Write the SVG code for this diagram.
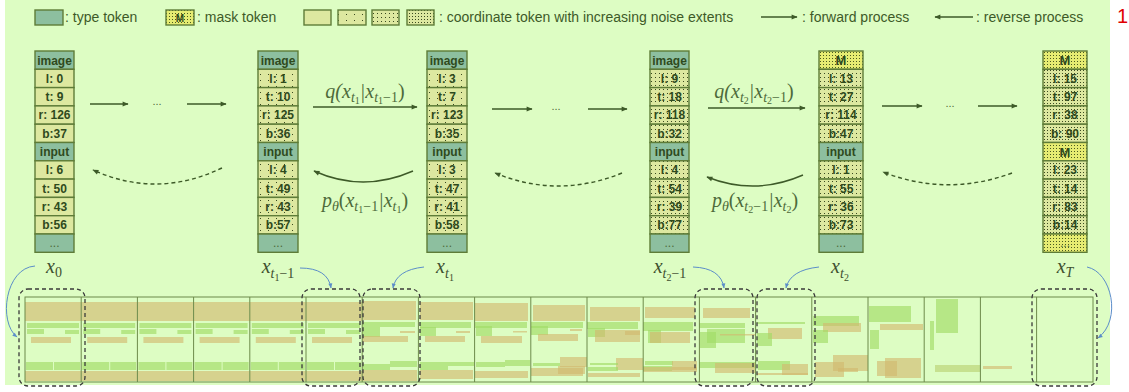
<svg xmlns="http://www.w3.org/2000/svg" width="1129" height="392" viewBox="0 0 1129 392">
<defs>
<style>
.lg{font-family:"Liberation Sans",Arial,sans-serif;font-size:14px;fill:#3d5a28}
.cell{stroke:#5e7c38;stroke-width:1.4}
.ty{fill:#8dbf9f}
.c0{fill:#dde8a0}
.c1{fill:url(#d1)}
.c2{fill:url(#d2)}
.c3{fill:url(#d3)}
.mk{fill:url(#dm)}
.ct{font-family:"Liberation Sans",Arial,sans-serif;font-size:12px;font-weight:bold;fill:#2f4a1d;text-anchor:middle}
.mt{font-size:13px}
.dt{font-weight:normal;fill:#4d6a3a}
.fw{stroke:#3d5a28;stroke-width:1.4;fill:none;marker-end:url(#ah)}
.dash{stroke-dasharray:4 3}
.m{font-family:"Liberation Serif","DejaVu Serif",serif;font-style:italic;font-size:20px;fill:#4d6a3a}
.xl{font-family:"Liberation Serif","DejaVu Serif",serif;font-style:italic;font-size:20px;fill:#3f5030}
.s{font-size:14px}
.ss{font-size:10px}
.xs{font-size:14px}
.xss{font-size:10px}
.up{font-style:normal}
.bl{stroke:#5b8dc9;stroke-width:1;fill:none;marker-end:url(#bh)}
.hl{fill:none;stroke:#3a3a3a;stroke-width:1.3;stroke-dasharray:4 3}
.fr{fill:none;stroke:#6d8a4a;stroke-width:1}
.tn{fill:#d2b86d;opacity:.62}
.gn{fill:#a2dc66;opacity:.65}
</style>
<pattern id="d1" width="8" height="6" patternUnits="userSpaceOnUse"><rect width="8" height="6" fill="#dde8a0"/><rect x="2" y="2" width="1" height="1" fill="#3a4a20"/></pattern>
<pattern id="d2" width="4" height="4" patternUnits="userSpaceOnUse"><rect width="4" height="4" fill="#dde8a0"/><rect x="1" y="1" width="1" height="1" fill="#3a4a20"/></pattern>
<pattern id="d3" width="3" height="3" patternUnits="userSpaceOnUse"><rect width="3" height="3" fill="#dde8a0"/><rect x="1" y="1" width="1" height="1" fill="#3a4a20"/></pattern>
<pattern id="dm" width="3" height="3" patternUnits="userSpaceOnUse"><rect width="3" height="3" fill="#e6ec72"/><rect x="1" y="1" width="1" height="1" fill="#4a5a20"/></pattern>
<marker id="ah" viewBox="0 0 10 10" refX="9" refY="5" markerWidth="8" markerHeight="6" markerUnits="userSpaceOnUse" orient="auto"><path d="M0,1 L10,5 L0,9 z" fill="#3d5a28"/></marker>
<marker id="bh" viewBox="0 0 10 10" refX="9" refY="5" markerWidth="6" markerHeight="5" markerUnits="userSpaceOnUse" orient="auto"><path d="M0,1 L10,5 L0,9 z" fill="#5b8dc9"/></marker>
<g id="fA">
<rect class="tn" x="0" y="302" width="56" height="19"/>
<rect class="gn" x="2" y="323" width="52" height="5"/>
<rect class="gn" x="2" y="329" width="17" height="5"/>
<rect class="gn" x="40" y="330" width="14" height="4"/>
<rect class="tn" x="6" y="337" width="40" height="6"/>
<rect class="gn" x="1" y="362" width="27" height="8"/>
<rect class="gn" x="29" y="362" width="26" height="8"/>
<rect class="tn" x="0" y="371" width="56" height="10"/>
</g>
</defs>

<rect x="5" y="0" width="1105" height="385" fill="#ddfdc3"/>

<g id="legend">
<rect class="cell ty" x="35" y="10" width="28" height="15"/>
<text class="lg" x="65" y="22">: type token</text>
<rect class="cell mk" x="166" y="10" width="28" height="15"/>
<text class="ct" x="180" y="22" style="font-size:10px">M</text>
<text class="lg" x="197" y="22">: mask token</text>
<rect class="cell c0" x="304" y="10" width="27" height="15"/>
<rect class="cell c1" x="338" y="10" width="28" height="15"/>
<rect class="cell c2" x="372" y="10" width="27" height="15"/>
<rect class="cell c3" x="407" y="10" width="27" height="15"/>
<text class="lg" x="439" y="22">: coordinate token with increasing noise extents</text>
<path class="fw" d="M761,17 H797"/>
<text class="lg" x="802" y="22">: forward process</text>
<path class="fw" d="M973,17 H935"/>
<text class="lg" x="976" y="22">: reverse process</text>
</g>
<text x="1117" y="23" font-family="Liberation Sans, Arial, sans-serif" font-size="20" fill="#e00000">1</text>

<g id="x0" transform="translate(35,0)">
<rect class="cell ty" x="0" y="51" width="39" height="18.3"/><text class="ct" x="19.5" y="64.5">image</text>
<rect class="cell c0" x="0" y="69.3" width="39" height="18.3"/><text class="ct" x="19.5" y="82.8">l: 0</text>
<rect class="cell c0" x="0" y="87.6" width="39" height="18.3"/><text class="ct" x="19.5" y="101.1">t: 9</text>
<rect class="cell c0" x="0" y="105.9" width="39" height="18.3"/><text class="ct" x="19.5" y="119.4">r: 126</text>
<rect class="cell c0" x="0" y="124.2" width="39" height="18.3"/><text class="ct" x="19.5" y="137.7">b:37</text>
<rect class="cell ty" x="0" y="142.5" width="39" height="18.3"/><text class="ct" x="19.5" y="156">input</text>
<rect class="cell c0" x="0" y="160.8" width="39" height="18.3"/><text class="ct" x="19.5" y="174.3">l: 6</text>
<rect class="cell c0" x="0" y="179.1" width="39" height="18.3"/><text class="ct" x="19.5" y="192.6">t: 50</text>
<rect class="cell c0" x="0" y="197.4" width="39" height="18.3"/><text class="ct" x="19.5" y="210.9">r: 43</text>
<rect class="cell c0" x="0" y="215.7" width="39" height="18.3"/><text class="ct" x="19.5" y="229.2">b:56</text>
<rect class="cell ty" x="0" y="234" width="39" height="18.3"/><text class="ct dt" x="19.5" y="247">...</text>
</g>

<g id="xt1m1" transform="translate(258,0)">
<rect class="cell ty" x="0" y="51" width="40" height="18.3"/><text class="ct" x="20" y="64.5">image</text>
<rect class="cell c1" x="0" y="69.3" width="40" height="18.3"/><text class="ct" x="20" y="82.8">l: 1</text>
<rect class="cell c1" x="0" y="87.6" width="40" height="18.3"/><text class="ct" x="20" y="101.1">t: 10</text>
<rect class="cell c1" x="0" y="105.9" width="40" height="18.3"/><text class="ct" x="20" y="119.4">r: 125</text>
<rect class="cell c1" x="0" y="124.2" width="40" height="18.3"/><text class="ct" x="20" y="137.7">b:36</text>
<rect class="cell ty" x="0" y="142.5" width="40" height="18.3"/><text class="ct" x="20" y="156">input</text>
<rect class="cell c1" x="0" y="160.8" width="40" height="18.3"/><text class="ct" x="20" y="174.3">l: 4</text>
<rect class="cell c1" x="0" y="179.1" width="40" height="18.3"/><text class="ct" x="20" y="192.6">t: 49</text>
<rect class="cell c1" x="0" y="197.4" width="40" height="18.3"/><text class="ct" x="20" y="210.9">r: 43</text>
<rect class="cell c1" x="0" y="215.7" width="40" height="18.3"/><text class="ct" x="20" y="229.2">b:57</text>
<rect class="cell ty" x="0" y="234" width="40" height="18.3"/><text class="ct dt" x="20" y="247">...</text>
</g>

<g id="xt1" transform="translate(427,0)">
<rect class="cell ty" x="0" y="51" width="40" height="18.3"/><text class="ct" x="20" y="64.5">image</text>
<rect class="cell c1" x="0" y="69.3" width="40" height="18.3"/><text class="ct" x="20" y="82.8">l: 3</text>
<rect class="cell c1" x="0" y="87.6" width="40" height="18.3"/><text class="ct" x="20" y="101.1">t: 7</text>
<rect class="cell c1" x="0" y="105.9" width="40" height="18.3"/><text class="ct" x="20" y="119.4">r: 123</text>
<rect class="cell c1" x="0" y="124.2" width="40" height="18.3"/><text class="ct" x="20" y="137.7">b:35</text>
<rect class="cell ty" x="0" y="142.5" width="40" height="18.3"/><text class="ct" x="20" y="156">input</text>
<rect class="cell c1" x="0" y="160.8" width="40" height="18.3"/><text class="ct" x="20" y="174.3">l: 3</text>
<rect class="cell c1" x="0" y="179.1" width="40" height="18.3"/><text class="ct" x="20" y="192.6">t: 47</text>
<rect class="cell c1" x="0" y="197.4" width="40" height="18.3"/><text class="ct" x="20" y="210.9">r: 41</text>
<rect class="cell c1" x="0" y="215.7" width="40" height="18.3"/><text class="ct" x="20" y="229.2">b:58</text>
<rect class="cell ty" x="0" y="234" width="40" height="18.3"/><text class="ct dt" x="20" y="247">...</text>
</g>

<g id="xt2m1" transform="translate(650,0)">
<rect class="cell ty" x="0" y="51" width="39" height="18.3"/><text class="ct" x="19.5" y="64.5">image</text>
<rect class="cell c2" x="0" y="69.3" width="39" height="18.3"/><text class="ct" x="19.5" y="82.8">l: 9</text>
<rect class="cell c2" x="0" y="87.6" width="39" height="18.3"/><text class="ct" x="19.5" y="101.1">t: 18</text>
<rect class="cell c2" x="0" y="105.9" width="39" height="18.3"/><text class="ct" x="19.5" y="119.4">r: 118</text>
<rect class="cell c2" x="0" y="124.2" width="39" height="18.3"/><text class="ct" x="19.5" y="137.7">b:32</text>
<rect class="cell ty" x="0" y="142.5" width="39" height="18.3"/><text class="ct" x="19.5" y="156">input</text>
<rect class="cell c2" x="0" y="160.8" width="39" height="18.3"/><text class="ct" x="19.5" y="174.3">l: 4</text>
<rect class="cell c2" x="0" y="179.1" width="39" height="18.3"/><text class="ct" x="19.5" y="192.6">t: 54</text>
<rect class="cell c2" x="0" y="197.4" width="39" height="18.3"/><text class="ct" x="19.5" y="210.9">r: 39</text>
<rect class="cell c2" x="0" y="215.7" width="39" height="18.3"/><text class="ct" x="19.5" y="229.2">b:77</text>
<rect class="cell ty" x="0" y="234" width="39" height="18.3"/><text class="ct dt" x="19.5" y="247">...</text>
</g>

<g id="xt2" transform="translate(819,0)">
<rect class="cell mk" x="0" y="51" width="44" height="18.3"/><text class="ct mt" x="22" y="65">M</text>
<rect class="cell c2" x="0" y="69.3" width="44" height="18.3"/><text class="ct" x="22" y="82.8">l: 13</text>
<rect class="cell c2" x="0" y="87.6" width="44" height="18.3"/><text class="ct" x="22" y="101.1">t: 27</text>
<rect class="cell c2" x="0" y="105.9" width="44" height="18.3"/><text class="ct" x="22" y="119.4">r: 114</text>
<rect class="cell c2" x="0" y="124.2" width="44" height="18.3"/><text class="ct" x="22" y="137.7">b:47</text>
<rect class="cell ty" x="0" y="142.5" width="44" height="18.3"/><text class="ct" x="22" y="156">input</text>
<rect class="cell c2" x="0" y="160.8" width="44" height="18.3"/><text class="ct" x="22" y="174.3">l: 1</text>
<rect class="cell c2" x="0" y="179.1" width="44" height="18.3"/><text class="ct" x="22" y="192.6">t: 55</text>
<rect class="cell c2" x="0" y="197.4" width="44" height="18.3"/><text class="ct" x="22" y="210.9">r: 36</text>
<rect class="cell c2" x="0" y="215.7" width="44" height="18.3"/><text class="ct" x="22" y="229.2">b:73</text>
<rect class="cell ty" x="0" y="234" width="44" height="18.3"/><text class="ct dt" x="22" y="247">...</text>
</g>

<g id="xT" transform="translate(1043,0)">
<rect class="cell mk" x="0" y="51" width="44" height="18.3"/><text class="ct mt" x="22" y="65">M</text>
<rect class="cell c3" x="0" y="69.3" width="44" height="18.3"/><text class="ct" x="22" y="82.8">l: 15</text>
<rect class="cell c3" x="0" y="87.6" width="44" height="18.3"/><text class="ct" x="22" y="101.1">t: 97</text>
<rect class="cell c3" x="0" y="105.9" width="44" height="18.3"/><text class="ct" x="22" y="119.4">r: 38</text>
<rect class="cell c3" x="0" y="124.2" width="44" height="18.3"/><text class="ct" x="22" y="137.7">b: 90</text>
<rect class="cell mk" x="0" y="142.5" width="44" height="18.3"/><text class="ct mt" x="22" y="156.5">M</text>
<rect class="cell c3" x="0" y="160.8" width="44" height="18.3"/><text class="ct" x="22" y="174.3">l: 23</text>
<rect class="cell c3" x="0" y="179.1" width="44" height="18.3"/><text class="ct" x="22" y="192.6">t: 14</text>
<rect class="cell c3" x="0" y="197.4" width="44" height="18.3"/><text class="ct" x="22" y="210.9">r: 83</text>
<rect class="cell c3" x="0" y="215.7" width="44" height="18.3"/><text class="ct" x="22" y="229.2">b:14</text>
<rect class="cell mk" x="0" y="234" width="44" height="18.3"/><text class="ct dt" x="22" y="247">...</text>
</g>

<g id="connectors">
<path class="fw" d="M90,104 H128"/>
<path class="fw" d="M187,104 H226"/>
<path class="fw" d="M313,107 H417"/>
<path class="fw" d="M492,109 H532"/>
<path class="fw" d="M588,109 H627"/>
<path class="fw" d="M708,108 H805"/>
<path class="fw" d="M882,106 H922"/>
<path class="fw" d="M978,106 H1017"/>
<path class="fw dash" d="M222,168 Q157,199 93,170"/>
<path class="fw" d="M413,171 Q363,193 314,171"/>
<path class="fw dash" d="M622,173 Q558,199 495,173"/>
<path class="fw" d="M803,175 Q755,196 707,177"/>
<path class="fw dash" d="M1012,173 Q947,197 883,172"/>
<path class="bl" d="M35,266 C5,268 -2,322 17,337"/>
<path class="bl" d="M300,268 Q328,268 331,288"/>
<path class="bl" d="M424,267 Q396,270 393,288"/>
<path class="bl" d="M693,267 Q721,268 724,288"/>
<path class="bl" d="M819,267 Q790,270 786,288"/>
<path class="bl" d="M1087,267 C1112,272 1122,320 1098,338"/>
</g>

<g id="dots" font-family="Liberation Sans, Arial, sans-serif" font-size="11" fill="#4d6a3a" text-anchor="middle">
<text x="157" y="105">...</text>
<text x="556" y="110">...</text>
<text x="950" y="107">...</text>
</g>

<g id="math">
<text class="m" x="365" y="98" text-anchor="middle">q(x<tspan class="s" dy="4">t</tspan><tspan class="ss up" dy="2">1</tspan><tspan dy="-6">|x</tspan><tspan class="s" dy="4">t</tspan><tspan class="ss up" dy="2">1</tspan><tspan class="s up" dy="-2">−1</tspan><tspan class="up" dy="-4">)</tspan></text>
<text class="m" x="365" y="207" text-anchor="middle">p<tspan class="s" dy="4">θ</tspan><tspan class="up" dy="-4">(</tspan>x<tspan class="s" dy="4">t</tspan><tspan class="ss up" dy="2">1</tspan><tspan class="s up" dy="-2">−1</tspan><tspan dy="-4">|x</tspan><tspan class="s" dy="4">t</tspan><tspan class="ss up" dy="2">1</tspan><tspan class="up" dy="-6">)</tspan></text>
<text class="m" x="754" y="98" text-anchor="middle">q(x<tspan class="s" dy="4">t</tspan><tspan class="ss up" dy="2">2</tspan><tspan dy="-6">|x</tspan><tspan class="s" dy="4">t</tspan><tspan class="ss up" dy="2">2</tspan><tspan class="s up" dy="-2">−1</tspan><tspan class="up" dy="-4">)</tspan></text>
<text class="m" x="755" y="207" text-anchor="middle">p<tspan class="s" dy="4">θ</tspan><tspan class="up" dy="-4">(</tspan>x<tspan class="s" dy="4">t</tspan><tspan class="ss up" dy="2">2</tspan><tspan class="s up" dy="-2">−1</tspan><tspan dy="-4">|x</tspan><tspan class="s" dy="4">t</tspan><tspan class="ss up" dy="2">2</tspan><tspan class="up" dy="-6">)</tspan></text>
<text class="xl" x="54" y="273" text-anchor="middle">x<tspan class="xs up" dy="4">0</tspan></text>
<text class="xl" x="278" y="273" text-anchor="middle">x<tspan class="xs" dy="5">t</tspan><tspan class="xss up" dy="3">1</tspan><tspan class="xs up" dy="-3">−1</tspan></text>
<text class="xl" x="445" y="273" text-anchor="middle">x<tspan class="xs" dy="5">t</tspan><tspan class="xss up" dy="3">1</tspan></text>
<text class="xl" x="670" y="273" text-anchor="middle">x<tspan class="xs" dy="5">t</tspan><tspan class="xss up" dy="3">2</tspan><tspan class="xs up" dy="-3">−1</tspan></text>
<text class="xl" x="840" y="273" text-anchor="middle">x<tspan class="xs" dy="5">t</tspan><tspan class="xss up" dy="3">2</tspan></text>
<text class="xl" x="1065" y="273" text-anchor="middle">x<tspan class="xs" dy="4">T</tspan></text>
</g>

<g id="strip">
<use href="#fA" x="25"/>
<use href="#fA" x="81.2"/>
<use href="#fA" x="137.4"/>
<use href="#fA" x="193.6"/>
<use href="#fA" x="249.8"/>
<use href="#fA" x="306"/>
<rect class="tn" x="362" y="301" width="54" height="19"/>
<rect class="gn" x="362" y="322" width="53" height="5"/>
<rect class="gn" x="362" y="327" width="18" height="10"/>
<rect class="tn" x="400" y="331" width="15" height="2"/>
<rect class="tn" x="362" y="336" width="46" height="6"/>
<rect class="gn" x="362" y="364" width="28" height="6"/>
<rect class="gn" x="390" y="361" width="27" height="6"/>
<rect class="tn" x="362" y="370" width="55" height="11"/>
<rect class="tn" x="420" y="302" width="53" height="18"/>
<rect class="gn" x="420" y="322" width="51" height="6"/>
<rect class="gn" x="420" y="327" width="16" height="9"/>
<rect class="tn" x="456" y="331" width="14" height="2"/>
<rect class="tn" x="425" y="336" width="40" height="6"/>
<rect class="gn" x="420" y="362" width="28" height="8"/>
<rect class="gn" x="448" y="362" width="26" height="4"/>
<rect class="tn" x="420" y="370" width="53" height="9"/>
<rect class="tn" x="475" y="303" width="53" height="18"/>
<rect class="gn" x="475" y="322" width="52" height="6"/>
<rect class="gn" x="476" y="326" width="16" height="10"/>
<rect class="tn" x="513" y="331" width="14" height="1.5"/>
<rect class="tn" x="481" y="336" width="41" height="7"/>
<rect class="gn" x="476" y="362" width="29" height="5"/>
<rect class="gn" x="505" y="360" width="25" height="6"/>
<rect class="tn" x="475" y="371" width="53" height="7"/>
<rect class="tn" x="533" y="305" width="52" height="16"/>
<rect class="gn" x="531" y="322" width="52" height="6"/>
<rect class="gn" x="531" y="326" width="17" height="9"/>
<rect class="tn" x="570" y="329" width="12" height="2"/>
<rect class="tn" x="538" y="334" width="40" height="7"/>
<rect class="tn" x="560" y="357" width="27" height="10"/>
<rect class="gn" x="533" y="363" width="27" height="3"/>
<rect class="tn" x="531" y="368" width="52" height="8"/>
<rect class="tn" x="558" y="366" width="27" height="8"/>
<rect class="tn" x="590" y="307" width="50" height="14"/>
<rect class="gn" x="587" y="322" width="51" height="7"/>
<rect class="gn" x="588" y="328" width="17" height="9"/>
<rect class="tn" x="595" y="330" width="45" height="12"/>
<rect class="tn" x="625" y="331" width="15" height="4"/>
<rect class="tn" x="616" y="358" width="27" height="12"/>
<rect class="gn" x="590" y="363" width="28" height="2"/>
<rect class="gn" x="588" y="367" width="30" height="4"/>
<rect class="tn" x="588" y="373" width="52" height="4"/>
<rect class="tn" x="645" y="307" width="50" height="11"/>
<rect class="gn" x="643" y="322" width="50" height="9"/>
<rect class="gn" x="648" y="330" width="13" height="13"/>
<rect class="tn" x="650" y="332" width="40" height="11"/>
<rect class="gn" x="645" y="361" width="28" height="4"/>
<rect class="tn" x="672" y="361" width="25" height="9"/>
<rect class="gn" x="643" y="366" width="29" height="5"/>
<rect class="tn" x="643" y="367" width="54" height="5"/>
<rect class="tn" x="703" y="308" width="47" height="10"/>
<rect class="gn" x="699" y="323" width="46" height="5"/>
<rect class="gn" x="707" y="329" width="38" height="14"/>
<rect class="gn" x="700" y="332" width="16" height="16"/>
<rect class="tn" x="720" y="334" width="35" height="1.5"/>
<rect class="gn" x="699" y="362" width="56" height="6"/>
<rect class="tn" x="715" y="363" width="40" height="10"/>
<rect class="gn" x="757" y="322" width="48" height="2"/>
<rect class="tn" x="768" y="328" width="34" height="11"/>
<rect class="gn" x="757" y="333" width="15" height="13"/>
<rect class="gn" x="758" y="361" width="32" height="9"/>
<rect class="tn" x="782" y="364" width="26" height="11"/>
<rect class="tn" x="757" y="373" width="51" height="2"/>
<rect class="gn" x="813" y="316" width="46" height="10"/>
<rect class="tn" x="823" y="323" width="38" height="9"/>
<rect class="gn" x="813" y="330" width="15" height="13"/>
<rect class="tn" x="833" y="355" width="35" height="16"/>
<rect class="tn" x="815" y="362" width="29" height="15"/>
<rect class="tn" x="838" y="368" width="20" height="4"/>
<rect class="gn" x="869" y="306" width="42" height="16"/>
<rect class="tn" x="880" y="324" width="43" height="6"/>
<rect class="gn" x="870" y="330" width="9" height="19"/>
<rect class="tn" x="885" y="358" width="36" height="20"/>
<rect class="tn" x="877" y="361" width="20" height="15"/>
<rect class="gn" x="936" y="299" width="22" height="34"/>
<rect class="gn" x="930" y="321" width="4" height="29"/>
<rect class="tn" x="935" y="365" width="45" height="7" style="fill:#b8d070"/>
<rect class="tn" x="983" y="366" width="29" height="3"/>

<rect class="fr" x="25" y="297" width="1068" height="85"/>
<path class="fr" d="M81.2,297V382M137.4,297V382M193.6,297V382M249.8,297V382M306,297V382M362.2,297V382M418.4,297V382M474.6,297V382M530.8,297V382M587,297V382M643.2,297V382M699.4,297V382M755.6,297V382M811.8,297V382M868,297V382M924.2,297V382M980.4,297V382M1036.6,297V382"/>

<rect class="hl" x="19" y="289" width="66" height="97" rx="9"/>
<rect class="hl" x="302" y="289" width="58" height="97" rx="9"/>
<rect class="hl" x="363" y="289" width="57" height="97" rx="9"/>
<rect class="hl" x="695" y="289" width="58" height="97" rx="9"/>
<rect class="hl" x="757" y="289" width="58" height="97" rx="9"/>
<rect class="hl" x="1032" y="289" width="65" height="97" rx="9"/>
</g>
</svg>
